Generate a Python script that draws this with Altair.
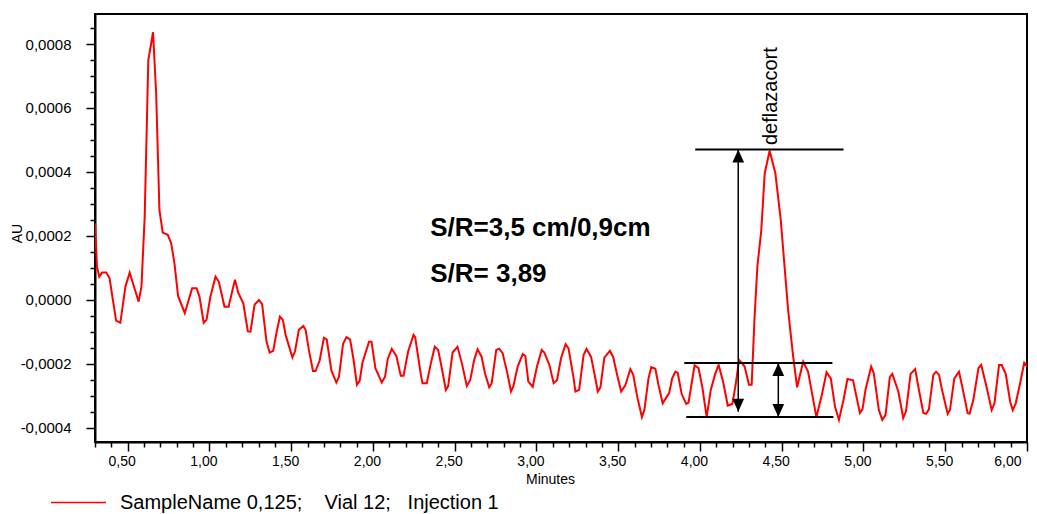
import altair as alt
import pandas as pd

# ---- trace (minutes, AU x 1e-4) ----
minutes = [
    0.300, 0.312, 0.326, 0.343, 0.369, 0.389, 0.429, 0.455, 0.486, 0.512,
    0.567, 0.584, 0.604, 0.626, 0.655, 0.674, 0.694, 0.714, 0.745, 0.766,
    0.786, 0.808, 0.849, 0.894, 0.921, 0.939, 0.965, 0.982, 1.006, 1.037,
    1.057, 1.092, 1.117, 1.156, 1.176, 1.207, 1.235, 1.251, 1.276, 1.303,
    1.322, 1.349, 1.368, 1.390, 1.411, 1.431, 1.449, 1.466, 1.507, 1.523,
    1.547, 1.574, 1.588, 1.608, 1.633, 1.649, 1.674, 1.700, 1.717, 1.746,
    1.776, 1.792, 1.817, 1.838, 1.860, 1.880, 1.902, 1.919, 1.936, 1.976,
    1.991, 2.015, 2.054, 2.074, 2.090, 2.115, 2.143, 2.170, 2.187, 2.215,
    2.248, 2.258, 2.293, 2.303, 2.329, 2.354, 2.378, 2.399, 2.419, 2.446,
    2.460, 2.487, 2.517, 2.544, 2.574, 2.595, 2.619, 2.640, 2.664, 2.685,
    2.711, 2.726, 2.754, 2.772, 2.793, 2.824, 2.844, 2.858, 2.885, 2.916,
    2.932, 2.950, 2.977, 3.003, 3.032, 3.048, 3.079, 3.105, 3.126, 3.150,
    3.178, 3.196, 3.227, 3.238, 3.261, 3.288, 3.306, 3.334, 3.354, 3.375,
    3.391, 3.415, 3.449, 3.469, 3.496, 3.518, 3.543, 3.574, 3.592, 3.616,
    3.645, 3.660, 3.685, 3.702, 3.727, 3.746, 3.772, 3.812, 3.830, 3.850,
    3.864, 3.888, 3.916, 3.930, 3.967, 3.991, 4.014, 4.041, 4.066, 4.093,
    4.114, 4.141, 4.170, 4.198, 4.218, 4.239, 4.273, 4.300, 4.316, 4.334,
    4.351, 4.375, 4.396, 4.426, 4.461, 4.494, 4.539, 4.570, 4.594, 4.631,
    4.661, 4.712, 4.743, 4.774, 4.800, 4.826, 4.850, 4.878, 4.902, 4.936,
    4.978, 4.994, 5.013, 5.047, 5.063, 5.094, 5.115, 5.135, 5.161, 5.176,
    5.213, 5.243, 5.260, 5.288, 5.316, 5.337, 5.366, 5.383, 5.400, 5.427,
    5.444, 5.462, 5.478, 5.515, 5.529, 5.555, 5.584, 5.605, 5.637, 5.649,
    5.672, 5.703, 5.720, 5.748, 5.784, 5.801, 5.829, 5.845, 5.870, 5.897,
    5.913, 5.931, 5.958, 5.983, 6.003, 6.013,
]
absorbance_e4 = [
    2.39, 1.04, 0.72, 0.85, 0.85, 0.67, -0.65, -0.72, 0.41, 0.85,
    -0.06, 0.41, 2.60, 7.50, 8.37, 6.46, 2.81, 2.10, 2.03, 1.77,
    1.14, 0.12, -0.42, 0.36, 0.36, 0.10, -0.72, -0.63, 0.10, 0.72,
    0.57, -0.22, -0.22, 0.63, 0.22, -0.11, -0.99, -1.00, -0.15, -0.01,
    -0.14, -1.31, -1.65, -1.60, -1.00, -0.53, -0.63, -1.10, -1.80, -1.62,
    -0.94, -0.82, -0.94, -1.57, -2.23, -2.23, -1.90, -1.19, -1.24, -2.22,
    -2.59, -2.41, -1.38, -1.17, -1.24, -1.83, -2.66, -2.53, -1.96, -1.31,
    -1.31, -2.14, -2.59, -2.41, -1.86, -1.54, -1.76, -2.38, -2.38, -1.62,
    -1.10, -1.17, -2.35, -2.61, -2.61, -1.99, -1.47, -1.57, -2.09, -2.82,
    -2.70, -1.65, -1.47, -1.99, -2.70, -2.51, -1.88, -1.55, -1.78, -2.30,
    -2.74, -2.61, -1.57, -1.53, -1.67, -2.35, -2.87, -2.72, -2.09, -1.70,
    -1.76, -2.56, -2.72, -2.09, -1.57, -1.65, -2.04, -2.61, -2.51, -1.83,
    -1.39, -1.52, -2.45, -2.87, -2.82, -1.73, -1.54, -1.79, -2.30, -2.87,
    -2.74, -1.81, -1.60, -1.79, -2.41, -2.87, -2.68, -2.17, -2.35, -3.03,
    -3.67, -3.45, -2.46, -2.11, -2.16, -2.66, -3.24, -2.91, -2.46, -2.25,
    -2.29, -2.95, -3.26, -3.22, -2.05, -2.14, -2.72, -3.67, -2.82, -2.32,
    -2.04, -2.56, -3.31, -3.26, -2.66, -1.88, -2.09, -2.66, -2.66, -0.53,
    1.04, 2.18, 3.96, 4.66, 3.96, 2.50, -0.32, -1.78, -2.74, -1.94,
    -2.25, -3.67, -3.03, -2.27, -2.46, -3.35, -3.76, -3.13, -2.48, -2.52,
    -3.54, -3.42, -2.80, -2.09, -2.30, -3.45, -3.76, -3.60, -2.42, -2.32,
    -2.87, -3.70, -3.49, -2.32, -2.17, -2.76, -3.54, -3.57, -3.43, -2.35,
    -2.25, -2.35, -2.77, -3.57, -3.45, -2.47, -2.25, -2.74, -3.55, -3.56,
    -3.13, -2.14, -2.04, -2.63, -3.45, -3.24, -2.04, -2.04, -2.32, -3.19,
    -3.45, -3.24, -2.61, -1.97, -2.09, -2.35,
]
series_label = ("SampleName\u00a00,125;\u00a0\u00a0\u00a0\u00a0Vial\u00a012;"
                "\u00a0\u00a0\u00a0Injection\u00a01")

# ---- axis ticks ----
x_major_ticks = [0.5, 1.0, 1.5, 2.0, 2.5, 3.0, 3.5, 4.0, 4.5, 5.0, 5.5, 6.0]
x_minor_ticks = [round(0.3 + 0.1 * i, 1) for i in range(58)
                 if round((0.3 + 0.1 * i) * 10) % 5 != 0]
y_major_ticks = [-0.0004, -0.0002, 0.0, 0.0002, 0.0004, 0.0006, 0.0008]
y_minor_ticks = [round(-0.0004 + 0.00005 * i, 6) for i in range(26)
                 if round((-0.0004 + 0.00005 * i) * 20000) % 4 != 0]

# ---- annotation (data units) ----
hline_x = [3.971, 3.904, 3.916]
hline_x2 = [4.878, 4.810, 4.816]
hline_y = [4.70e-4, -1.98e-4, -3.67e-4]
arrow_x = [4.234, 4.479]
arrow_top = [4.70e-4, -1.98e-4]
arrow_bottom = [-3.50e-4, -3.67e-4]
sr_text = ["S/R=3,5 cm/0,9cm", "S/R= 3,89"]
sr_x = [2.350, 2.350]
sr_y = [1.995e-4, 0.557e-4]
peak_name = ["deflazacort"]
peak_name_x = [4.437]
peak_name_y = [4.84e-4]

FONT = "Liberation Sans"

df = pd.DataFrame({
    "Minutes": minutes,
    "AU": [v * 1e-4 for v in absorbance_e4],
    "series": series_label,
})

xscale = alt.Scale(domain=[0.3, 6.0], nice=False, zero=False)
yscale = alt.Scale(domain=[-0.000445, 0.000894], nice=False, zero=False)

x_label_expr = "replace(format(datum.value, '.2f'), '.', ',')"
y_label_expr = "(datum.value < -1e-9 ? '-' : '') + replace(format(abs(datum.value), '.4f'), '.', ',')"

trace = alt.Chart(df).mark_line(strokeWidth=2, clip=True).encode(
    x=alt.X("Minutes:Q", scale=xscale, axis=alt.Axis(
        orient="bottom", values=x_major_ticks, tickSize=9, tickWidth=1.5, tickColor="black",
        labelExpr=x_label_expr, labelFont=FONT, labelFontSize=14, labelColor="black",
        labelOffset=-6, labelPadding=3, domainWidth=2, domainColor="black", grid=False,
        title="Minutes", titleFont=FONT, titleFontSize=14, titleFontWeight="normal",
        titleColor="black", titleX=455, titleY=30, titleBaseline="top")),
    y=alt.Y("AU:Q", scale=yscale, axis=alt.Axis(
        orient="left", values=y_major_ticks, tickSize=9, tickWidth=1.5, tickColor="black",
        labelExpr=y_label_expr, labelFont=FONT, labelFontSize=15, labelColor="black",
        labelPadding=15, domainWidth=2, domainColor="black", grid=False,
        title="AU", titleFont=FONT, titleFontSize=14, titleFontWeight="normal",
        titleColor="black", titleX=-71, titleY=219)),
    color=alt.Color("series:N", scale=alt.Scale(range=["#ff0000"]), legend=alt.Legend(
        orient="none", legendX=-45, legendY=460, title=None, padding=0,
        symbolType="stroke", symbolSize=3025, symbolStrokeWidth=1.5,
        labelFont=FONT, labelFontSize=20, labelColor="black", labelLimit=800, labelOffset=13)),
)

minor = alt.Chart(df).mark_line(opacity=0).encode(
    x=alt.X("Minutes:Q", scale=xscale, axis=alt.Axis(
        orient="bottom", values=x_minor_ticks, tickSize=5, tickWidth=1.5, tickColor="black",
        labels=False, domain=False, grid=False, title=None)),
    y=alt.Y("AU:Q", scale=yscale, axis=alt.Axis(
        orient="left", values=y_minor_ticks, tickSize=5, tickWidth=1.5, tickColor="black",
        labels=False, domain=False, grid=False, title=None)),
)

hl_df = pd.DataFrame({"x": hline_x, "x2": hline_x2, "y": hline_y})
hlines = alt.Chart(hl_df).mark_rule(color="black", strokeWidth=2).encode(
    x=alt.X("x:Q", scale=xscale, axis=None), x2="x2:Q",
    y=alt.Y("y:Q", scale=yscale, axis=None),
)

ar_df = pd.DataFrame({"x": arrow_x, "top": arrow_top, "bottom": arrow_bottom})
shafts = alt.Chart(ar_df).mark_rule(color="black", strokeWidth=1.5).encode(
    x=alt.X("x:Q", scale=xscale, axis=None),
    y=alt.Y("top:Q", scale=yscale, axis=None), y2="bottom:Q",
)
heads_up = alt.Chart(ar_df).mark_point(
    shape="M0,-1L-0.9,1L0.9,1Z", size=169, filled=True, color="black", opacity=1, yOffset=6.5
).encode(
    x=alt.X("x:Q", scale=xscale, axis=None),
    y=alt.Y("top:Q", scale=yscale, axis=None),
)
heads_down = alt.Chart(ar_df).mark_point(
    shape="M0,1L-0.9,-1L0.9,-1Z", size=169, filled=True, color="black", opacity=1, yOffset=-6.5
).encode(
    x=alt.X("x:Q", scale=xscale, axis=None),
    y=alt.Y("bottom:Q", scale=yscale, axis=None),
)

sr_df = pd.DataFrame({"x": sr_x, "y": sr_y, "label": sr_text})
sr = alt.Chart(sr_df).mark_text(
    font=FONT, fontSize=26, fontWeight="bold", align="left", baseline="alphabetic", color="black"
).encode(
    x=alt.X("x:Q", scale=xscale, axis=None),
    y=alt.Y("y:Q", scale=yscale, axis=None),
    text="label:N",
)

pk_df = pd.DataFrame({"x": peak_name_x, "y": peak_name_y, "label": peak_name})
pk = alt.Chart(pk_df).mark_text(
    font=FONT, fontSize=20, angle=270, align="left", baseline="middle", color="black"
).encode(
    x=alt.X("x:Q", scale=xscale, axis=None),
    y=alt.Y("y:Q", scale=yscale, axis=None),
    text="label:N",
)

chart = alt.layer(minor, trace, hlines, shafts, heads_up, heads_down, sr, pk).resolve_axis(
    x="independent", y="independent"
).properties(
    width=932, height=428,
    autosize=alt.AutoSizeParams(type="none"),
    padding={"left": 95, "top": 14, "right": 10, "bottom": 72},
    background="white",
).configure_view(stroke="black", strokeWidth=2)

chart.save("out.html", embed_options={"renderer": "svg", "actions": False})
